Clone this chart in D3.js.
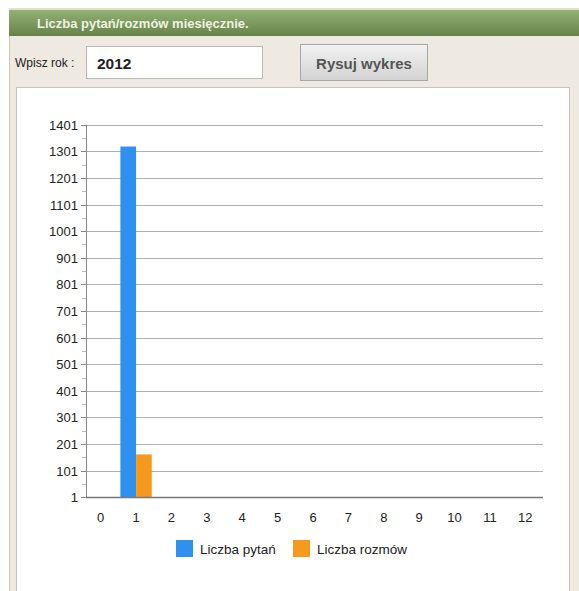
<!DOCTYPE html>
<html><head><meta charset="utf-8">
<script src="https://cdn.jsdelivr.net/npm/d3@7"></script>
<style>
html,body{margin:0;padding:0;background:#fff;overflow:hidden}
svg{display:block;font-family:"Liberation Sans",Arial,sans-serif}
</style></head><body>
<script>
const months = [0,1,2,3,4,5,6,7,8,9,10,11,12];
const series = ["Liczba pytań","Liczba rozmów"];
const pytania = [0,1318,0,0,0,0,0,0,0,0,0,0,0];
const rozmowy = [0,161,0,0,0,0,0,0,0,0,0,0,0];
const colors = ["#3090f0","#f59a1c"];
const yTicks = [1,101,201,301,401,501,601,701,801,901,1001,1101,1201,1301,1401];
const yMinor = [51,151,251,351,451,551,651,751,851,951,1051,1151,1251,1351];
const title = "Liczba pytań/rozmów miesięcznie.";
const yearValue = "2012";

(function(){
const W=579,H=591;
const svg=d3.select("body").append("svg").attr("width",W).attr("height",H);
const defs=svg.append("defs");
const g1=defs.append("linearGradient").attr("id","hdr").attr("x1",0).attr("y1",0).attr("x2",0).attr("y2",1);
g1.append("stop").attr("offset","0").attr("stop-color","#93b075");
g1.append("stop").attr("offset","1").attr("stop-color","#67834a");
const g2=defs.append("linearGradient").attr("id","btn").attr("x1",0).attr("y1",0).attr("x2",0).attr("y2",1);
g2.append("stop").attr("offset","0").attr("stop-color","#f2f2f2");
g2.append("stop").attr("offset","1").attr("stop-color","#d2d2d2");

svg.append("rect").attr("x",9).attr("y",9).attr("width",W-9).attr("height",H-9).attr("fill","#eee9e1");
svg.append("line").attr("x1",9.5).attr("x2",9.5).attr("y1",9).attr("y2",H).attr("stroke","#cfc6b4");
svg.append("rect").attr("x",9).attr("y",8).attr("width",W-9).attr("height",2).attr("fill","#dfe2c8");
svg.append("rect").attr("x",9).attr("y",10).attr("width",W-9).attr("height",26).attr("fill","url(#hdr)");
svg.append("text").attr("x",37).attr("y",28).attr("fill","#eef2e0").attr("font-size",13).attr("font-weight","bold").text(title);

svg.append("text").attr("x",15).attr("y",67).attr("fill","#222").attr("font-size",12).text("Wpisz rok :");
svg.append("rect").attr("x",86.5).attr("y",46.5).attr("width",176).attr("height",32).attr("fill","#fff").attr("stroke","#b8b8b8");
svg.append("text").attr("x",97).attr("y",68.5).attr("fill","#222").attr("font-size",15.5).attr("font-weight","bold").text(yearValue);
svg.append("rect").attr("x",300.5).attr("y",44.5).attr("width",127).attr("height",36).attr("fill","url(#btn)").attr("stroke","#a8a8a8");
svg.append("text").attr("x",364).attr("y",68.5).attr("text-anchor","middle").attr("fill","#555").attr("font-size",15).attr("font-weight","bold").text("Rysuj wykres");

svg.append("rect").attr("x",16.5).attr("y",87.5).attr("width",553).attr("height",H).attr("fill","#fff").attr("stroke","#c4c4c4");

const pLeft=86,pRight=543,pTop=124.7,pBottom=497.3;
const y=d3.scaleLinear().domain([1,1401]).range([pBottom,pTop]);
const x=d3.scaleBand().domain(months).range([83,pRight]).padding(0);
const xs=d3.scaleBand().domain(series).range([2,x.bandwidth()-2]).padding(0);

const plot=svg.append("g");
plot.selectAll(".grid").data(yTicks.slice(1)).join("line")
  .attr("x1",pLeft).attr("x2",pRight).attr("y1",d=>Math.round(y(d))+0.5).attr("y2",d=>Math.round(y(d))+0.5)
  .attr("stroke","#b0b0b0");
plot.selectAll(".minor").data(yMinor).join("line")
  .attr("x1",pLeft-4).attr("x2",pLeft).attr("y1",d=>Math.round(y(d))+0.5).attr("y2",d=>Math.round(y(d))+0.5)
  .attr("stroke","#bbb");
plot.selectAll(".major").data(yTicks).join("line")
  .attr("x1",pLeft-5).attr("x2",pLeft).attr("y1",d=>Math.round(y(d))+0.5).attr("y2",d=>Math.round(y(d))+0.5)
  .attr("stroke","#888");
plot.selectAll(".ylab").data(yTicks).join("text")
  .attr("x",78).attr("y",d=>y(d)+5).attr("text-anchor","end").attr("font-size",13).attr("fill","#222").text(d=>d);

const rows=months.map((m,i)=>({m,vals:[pytania[i],rozmowy[i]]}));
const grp=plot.selectAll(".grp").data(rows).join("g").attr("transform",d=>`translate(${x(d.m)},0)`);
grp.selectAll("rect").data(d=>d.vals.map((v,j)=>({s:series[j],v,j})).filter(o=>o.v>0)).join("rect")
  .attr("x",o=>xs(o.s)).attr("width",xs.bandwidth())
  .attr("y",o=>y(o.v+1)).attr("height",o=>pBottom-y(o.v+1))
  .attr("fill",o=>colors[o.j]);

plot.append("line").attr("x1",pLeft+0.5).attr("x2",pLeft+0.5).attr("y1",pTop).attr("y2",pBottom).attr("stroke","#888");
plot.append("line").attr("x1",pLeft).attr("x2",pRight).attr("y1",Math.round(pBottom)+0.5).attr("y2",Math.round(pBottom)+0.5).attr("stroke","#777").attr("stroke-width",1.5);
plot.selectAll(".xlab").data(months).join("text")
  .attr("x",d=>x(d)+x.bandwidth()/2).attr("y",522).attr("text-anchor","middle").attr("font-size",13).attr("fill","#222").text(d=>d);

const legX=[176,293];
const lg=svg.selectAll(".leg").data(series).join("g").attr("transform",(d,i)=>`translate(${legX[i]},540)`);
lg.append("rect").attr("width",17).attr("height",17).attr("fill",(d,i)=>colors[i]);
lg.append("text").attr("x",24).attr("y",13.5).attr("font-size",13.5).attr("fill","#222").text(d=>d);
})();
</script>
</body></html>
